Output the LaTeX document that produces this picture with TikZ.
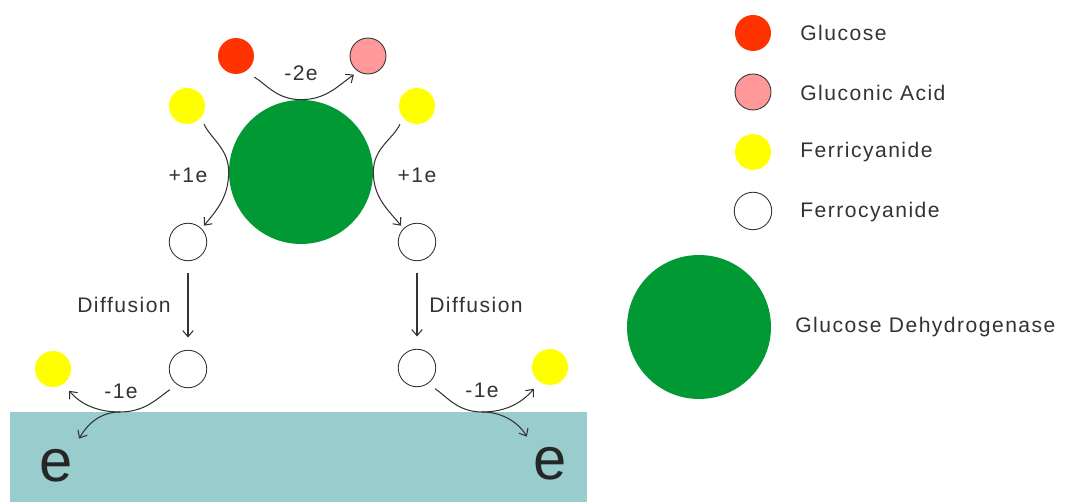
\documentclass[tikz,border=0pt]{standalone}
\usepackage{fontspec}
\setmainfont{Liberation Sans}[LetterSpace=7]
\usetikzlibrary{arrows.meta, positioning, calc}
\definecolor{glucred}{HTML}{FF3300}
\definecolor{acidpink}{HTML}{FF9999}
\definecolor{ferriyellow}{HTML}{FFFF00}
\definecolor{enzgreen}{HTML}{009933}
\definecolor{electrode}{HTML}{99CCCC}
\definecolor{inkgray}{HTML}{333333}

\begin{document}
\begin{tikzpicture}[x=0.02cm, y=0.02cm,
    mol/.style={circle, minimum size=0.72cm, inner sep=0pt},
    glucose/.style={mol, fill=glucred},
    acid/.style={mol, fill=acidpink, draw=inkgray, line width=0.5pt},
    ferri/.style={mol, fill=ferriyellow},
    ferro/.style={mol, fill=white, draw=inkgray, line width=0.5pt, minimum size=0.75cm},
    enzyme/.style={circle, fill=enzgreen, minimum size=2.88cm, inner sep=0pt},
    lbl/.style={font=\fontsize{12pt}{14pt}\selectfont, text=inkgray, inner sep=0pt},
    flow/.style={draw=inkgray, line width=0.6pt, -{Straight Barb[length=3.5pt, width=6pt]}}]
  \useasboundingbox (0,0) rectangle (1065,502);
  % electrode
  \fill[electrode] (10,0) rectangle (587,90);
  \coordinate (surfL) at (120,90);
  \coordinate (surfR) at (482,90);
  \node[font=\fontsize{34pt}{38pt}\selectfont, text=black!85, inner sep=0pt] (eL) at (56,36) {e};
  \node[font=\fontsize{34pt}{38pt}\selectfont, text=black!85, inner sep=0pt] (eR) at (550,38) {e};

  % enzyme and molecules
  \node[enzyme] (gdh) at (301,330) {};
  \node[glucose] (glu) at (236,446) {};
  \node[acid] (gla) at (368,446) {};
  \node[ferri] (ferriTL) at (187,396) {};
  \node[ferri] (ferriTR) at (417,396) {};
  \node[ferro] (ferroTL) at (188,260) {};
  \node[ferro] (ferroTR) at (417,260) {};
  \node[ferro] (ferroBL) at (188,133) {};
  \node[ferro] (ferroBR) at (417,134) {};
  \node[ferri] (ferriBL) at (53,133) {};
  \node[ferri] (ferriBR) at (550,135) {};

  % labels
  \node[lbl] (lblTop) at (301,429) {-2e};
  \node[lbl] (lblPlusL) at (188,327) {+1e};
  \node[lbl] (lblPlusR) at (417,327) {+1e};
  \node[lbl] (lblDiffL) at (124,197) {Diffusion};
  \node[lbl] (lblDiffR) at (476,197) {Diffusion};
  \node[lbl] (lblMinusL) at (121,111) {-1e};
  \node[lbl] (lblMinusR) at (482,112) {-1e};

  % electron transfer
  \draw[flow, shorten <=6pt, shorten >=3pt] (glu.-60) to[out=-30, in=180] (gdh.north) to[out=0, in=-145] (gla.238);
  \draw[flow, shorten <=4pt, shorten >=2pt] (ferriTL.-40) to[out=-65, in=90] (gdh.west) to[out=-90, in=50] (ferroTL.45);
  \draw[flow, shorten <=4pt, shorten >=2pt] (ferriTR.220) to[out=245, in=90] (gdh.east) to[out=-90, in=130] (ferroTR.135);
  \draw[flow, shorten <=6.5pt, shorten >=7pt] (ferroTL) -- (ferroBL);
  \draw[flow, shorten <=6.5pt, shorten >=7pt] (ferroTR) -- (ferroBR);
  \draw[flow, shorten <=5pt, shorten >=5pt] (ferroBL.235) to[out=-145, in=0] (surfL) to[out=180, in=-50] (ferriBL.-55);
  \draw[flow, shorten >=7pt] (surfL) to[out=180, in=60] (eL.north east);
  \draw[flow, shorten <=5pt, shorten >=5pt] (ferroBR.-55) to[out=-35, in=180] (surfR) to[out=0, in=230] (ferriBR.235);
  \draw[flow, shorten >=7pt] (surfR) to[out=0, in=120] (eR.north west);

  % legend
  \node[glucose] (keyGlu) at (753,469) {};
  \node[acid] (keyGla) at (753,410) {};
  \node[ferri] (keyFerri) at (753,350) {};
  \node[ferro] (keyFerro) at (753,291) {};
  \node[enzyme] (keyGdh) at (699,175) {};
  \node[lbl, anchor=west] (txtGlu) at (800,469) {Glucose};
  \node[lbl, anchor=west] (txtGla) at (800,409) {Gluconic Acid};
  \node[lbl, anchor=west] (txtFerri) at (800,350) {Ferricyanide};
  \node[lbl, anchor=west] (txtFerro) at (800,290) {Ferrocyanide};
  \node[lbl, anchor=west] (txtGdh) at (795,175) {Glucose Dehydrogenase};
\end{tikzpicture}
\end{document}
